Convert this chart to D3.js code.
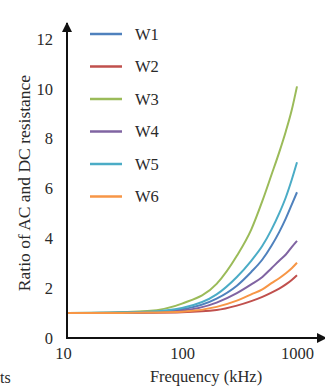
<!DOCTYPE html>
<html>
<head>
<meta charset="utf-8">
<script src="https://cdn.jsdelivr.net/npm/d3@7"></script>
<style>
  body { margin: 0; background: #fff; }
  text { font-family: "Liberation Serif", "Times New Roman", serif; fill: #2a2a2a; }
</style>
</head>
<body>
<div id="wrapper"></div>
<script>
// data
const frequencies = [10, 20, 50, 100, 200, 300, 400, 500, 600, 700, 800, 900, 1000];
const seriesNames = ["W1", "W2", "W3", "W4", "W5", "W6"];
const seriesColors = ["#4f81bd", "#c0504d", "#9bbb59", "#8064a2", "#4bacc6", "#f79646"];
const w1 = [1.00, 1.01, 1.04, 1.15, 1.58, 2.10, 2.65, 3.15, 3.70, 4.25, 4.80, 5.35, 5.85];
const w2 = [1.00, 1.00, 1.01, 1.03, 1.12, 1.30, 1.48, 1.65, 1.82, 1.98, 2.15, 2.33, 2.52];
const w3 = [1.00, 1.01, 1.08, 1.38, 2.17, 3.30, 4.35, 5.50, 6.55, 7.45, 8.30, 9.15, 10.10];
const w4 = [1.00, 1.00, 1.03, 1.10, 1.42, 1.80, 2.15, 2.45, 2.80, 3.10, 3.35, 3.65, 3.90];
const w5 = [1.00, 1.01, 1.05, 1.20, 1.75, 2.45, 3.10, 3.70, 4.35, 5.00, 5.65, 6.35, 7.05];
const w6 = [1.00, 1.00, 1.02, 1.05, 1.25, 1.50, 1.75, 1.95, 2.20, 2.40, 2.60, 2.80, 3.02];
const seriesValues = [w1, w2, w3, w4, w5, w6];
const yTicks = [0, 2, 4, 6, 8, 10, 12];
const xTicks = [10, 100, 1000];

function drawChart() {
  const dms = { width: 325, height: 389 };

  const svg = d3.select("#wrapper")
    .append("svg")
      .attr("width", dms.width)
      .attr("height", dms.height);

  // scales
  const xScale = d3.scaleLog()
    .domain([10, 1000])
    .range([67, 297]);

  const yScale = d3.scaleLinear()
    .domain([0, 12])
    .range([338, 39]);

  // lines
  const lineGenerator = d3.line()
    .x((d, i) => xScale(frequencies[i]))
    .y(d => yScale(d))
    .curve(d3.curveMonotoneX);

  svg.append("g")
    .selectAll("path")
    .data(seriesValues)
    .join("path")
      .attr("d", d => lineGenerator(d))
      .attr("fill", "none")
      .attr("stroke", (d, i) => seriesColors[i])
      .attr("stroke-width", 2);

  // axes
  const yAxis = svg.append("g")
    .attr("transform", `translate(${xScale(10)},0)`)
    .call(d3.axisLeft(yScale).tickValues(yTicks).tickSize(0).tickPadding(14));
  yAxis.select(".domain").remove();
  yAxis.selectAll("text").style("font-size", "16.5px").style("font-family", "Liberation Serif");

  const xAxis = svg.append("g")
    .attr("transform", `translate(0,${yScale(0)})`)
    .call(d3.axisBottom(xScale).tickValues(xTicks).tickFormat(d3.format("d")).tickSize(0).tickPadding(9));
  xAxis.select(".domain").remove();
  xAxis.selectAll("text").style("font-size", "16.5px").style("font-family", "Liberation Serif");
  xAxis.selectAll(".tick").filter(d => d === 10).select("text").attr("dx", -4);

  // axis lines with arrows
  svg.append("defs").append("marker")
    .attr("id", "arrow")
    .attr("viewBox", "0 0 10 10")
    .attr("refX", 9).attr("refY", 5)
    .attr("markerWidth", 5).attr("markerHeight", 5)
    .attr("orient", "auto")
    .append("path")
      .attr("d", "M0,0 L10,5 L0,10 Z")
      .attr("fill", "#111");

  svg.append("line")
    .attr("x1", xScale(10)).attr("y1", yScale(0) + 1)
    .attr("x2", xScale(10)).attr("y2", 23)
    .attr("stroke", "#111").attr("stroke-width", 2)
    .attr("marker-end", "url(#arrow)");

  svg.append("line")
    .attr("x1", xScale(10) - 1).attr("y1", yScale(0))
    .attr("x2", 326).attr("y2", yScale(0))
    .attr("stroke", "#111").attr("stroke-width", 2)
    .attr("marker-end", "url(#arrow)");

  // legend
  const legend = svg.append("g")
    .selectAll("g")
    .data(seriesNames)
    .join("g")
      .attr("transform", (d, i) => `translate(90,${34 + i * 32.5})`);

  legend.append("line")
    .attr("x1", 0).attr("x2", 32)
    .attr("stroke", (d, i) => seriesColors[i])
    .attr("stroke-width", 2.5);

  legend.append("text")
    .attr("x", 45).attr("y", 5.5)
    .style("font-size", "16.5px")
    .text(d => d);

  // axis titles
  svg.append("text")
    .attr("x", 206).attr("y", 382)
    .attr("text-anchor", "middle")
    .style("font-size", "16.5px")
    .text("Frequency (kHz)");

  svg.append("text")
    .attr("transform", "translate(30,183) rotate(-90)")
    .attr("text-anchor", "middle")
    .style("font-size", "17.5px")
    .text("Ratio of AC and DC resistance");

  // cut-off text from neighbouring figure
  svg.append("text")
    .attr("x", 0).attr("y", 383)
    .style("font-size", "16px")
    .text("ts");
}

drawChart();
</script>
</body>
</html>
